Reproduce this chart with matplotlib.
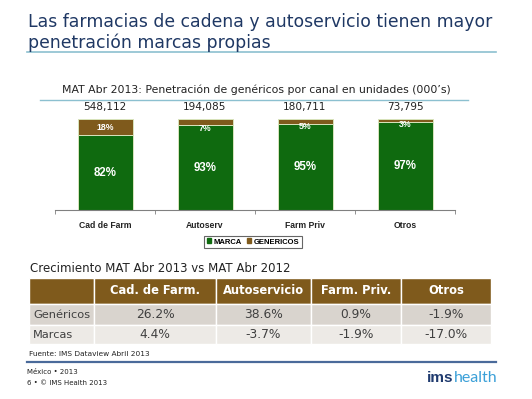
import numpy as np
import matplotlib
matplotlib.use('Agg')
import matplotlib.pyplot as plt
from matplotlib.patches import Rectangle, Patch

# Datos del grafico
canales = ['Cad de Farm', 'Autoserv', 'Farm Priv', 'Otros']
totales = ['548,112', '194,085', '180,711', '73,795']
marca = [82, 93, 95, 97]
genericos = [18, 7, 5, 3]

# Datos de la tabla
columnas = ['Cad. de Farm.', 'Autoservicio', 'Farm. Priv.', 'Otros']
filas = ['Genéricos', 'Marcas']
crec_genericos = ['26.2%', '38.6%', '0.9%', '-1.9%']
crec_marcas = ['4.4%', '-3.7%', '-1.9%', '-17.0%']

verde = '#0F6A0F'
cafe = '#7F5A1C'
navy = '#1F3864'
negrita = 'Liberation Sans'

W, H = 532, 399
fig = plt.figure(figsize=(W / 100, H / 100), dpi=100)
fig.patch.set_facecolor('white')

# Eje de fondo en pixeles para textos y lineas
bg = fig.add_axes([0, 0, 1, 1])
bg.set_xlim(0, W)
bg.set_ylim(H, 0)
bg.axis('off')

# Titulo
bg.text(28, 22, 'Las farmacias de cadena y autoservicio tienen mayor', fontsize=12.45,
        color=navy, va='center', ha='left')
bg.text(28, 43, 'penetración marcas propias', fontsize=12.45, color=navy, va='center', ha='left')
bg.plot([27, 496], [52, 52], color='#8CC0D0', lw=1.2)

# Titulo del grafico
bg.text(256, 90, 'MAT Abr 2013: Penetración de genéricos por canal en unidades (000\u2019s)',
        fontsize=7.8, color='#222222', ha='center', va='center')
bg.plot([40, 468], [100, 100], color='#8CC0D0', lw=1.0)

# Barras apiladas
ax = fig.add_axes([55 / W, (H - 210) / H, 400 / W, 91 / H])
x = np.arange(len(canales))
m = np.array(marca) / 100
g = np.array(genericos) / 100
ax.bar(x, m, width=0.55, color=verde, edgecolor='#D8E4BC', lw=0.7)
ax.bar(x, g, bottom=m, width=0.55, color=cafe, edgecolor='#D8E4BC', lw=0.7)
ax.set_xlim(-0.5, len(canales) - 0.5)
ax.set_ylim(0, 1)

for i in range(len(canales)):
    ax.text(x[i], m[i] / 2, f'{marca[i]}%', color='white', fontweight='bold',
            fontsize=8.3, ha='center', va='center', family=negrita)
    if genericos[i] >= 10:
        yg = m[i] + g[i] / 2
    else:
        yg = m[i] - 0.035
    ax.text(x[i], yg, f'{genericos[i]}%', color='white', fontweight='bold',
            fontsize=6.3, ha='center', va='center', family=negrita)
    ax.annotate(totales[i], xy=(x[i], 1), xytext=(0, 8.5), textcoords='offset points',
                ha='center', va='center', fontsize=7.6, color='#222222', annotation_clip=False)

for s in ['top', 'right', 'left']:
    ax.spines[s].set_visible(False)
ax.spines['bottom'].set_color('#808080')
ax.set_yticks([])
ax.set_xticks(x)
ax.set_xticklabels(canales, fontsize=6.2, fontweight='bold', family=negrita, color='#222222')
ax.tick_params(axis='x', which='major', length=0, pad=8)
ax.set_xticks(np.arange(-0.5, len(canales), 1), minor=True)
ax.tick_params(axis='x', which='minor', length=3, color='#808080')

handles = [Patch(color=verde, label='MARCA'), Patch(color=cafe, label='GENERICOS')]
leg = fig.legend(handles=handles, loc='center', bbox_to_anchor=(253 / W, 1 - 242 / H),
                 ncol=2, frameon=True, fancybox=False, handlelength=0.6, handleheight=0.6,
                 handletextpad=0.3, columnspacing=0.6, borderpad=0.35,
                 prop={'family': negrita, 'weight': 'bold', 'size': 5.5})
leg.get_frame().set_edgecolor('#404040')
leg.get_frame().set_linewidth(0.8)

# Tabla de crecimiento
bg.text(30, 268, 'Crecimiento MAT Abr 2013 vs MAT Abr 2012', fontsize=8.5,
        color='#222222', va='center', ha='left')

bordes = [29, 94, 216, 311, 401, 491]
y_filas = [278, 304, 325, 344]
fondos = ['#D9D4CE', '#EDEAE6']
valores = [crec_genericos, crec_marcas]

for j in range(len(bordes) - 1):
    bg.add_patch(Rectangle((bordes[j], y_filas[0]), bordes[j + 1] - bordes[j],
                           y_filas[1] - y_filas[0], facecolor=cafe, edgecolor='white', lw=1))
    if j > 0:
        bg.text((bordes[j] + bordes[j + 1]) / 2, (y_filas[0] + y_filas[1]) / 2,
                columnas[j - 1], color='white', fontweight='bold', fontsize=8.3,
                ha='center', va='center')

for r in range(len(filas)):
    y0, y1 = y_filas[r + 1], y_filas[r + 2]
    for j in range(len(bordes) - 1):
        bg.add_patch(Rectangle((bordes[j], y0), bordes[j + 1] - bordes[j], y1 - y0,
                               facecolor=fondos[r], edgecolor='white', lw=1))
    bg.text(33, (y0 + y1) / 2, filas[r], fontsize=8.2, color='#404040', ha='left', va='center')
    for j in range(len(columnas)):
        bg.text((bordes[j + 1] + bordes[j + 2]) / 2, (y0 + y1) / 2, valores[r][j],
                fontsize=8.8, color='#404040', ha='center', va='center')

bg.text(29, 354, 'Fuente: IMS Dataview Abril 2013', fontsize=5.3, color='#222222',
        ha='left', va='center')

# Pie de pagina
bg.plot([27, 496], [362, 362], color='#4A6A9A', lw=1.6)
bg.text(27, 372, 'México \u2022 2013', fontsize=5, color='#222222', ha='left', va='center')
bg.text(27, 383, '6 \u2022 \u00a9 IMS Health 2013', fontsize=5, color='#222222', ha='left', va='center')
t = bg.text(427, 378, 'ims', fontsize=11, fontweight='bold', color='#1F3A6E',
            ha='left', va='center', family=negrita)
bg.annotate('health', xycoords=t, xy=(1, 0.5), va='center', ha='left', fontsize=11.5,
            color='#3BA0D8', family='Lato')

fig.savefig('out.png', dpi=100)
